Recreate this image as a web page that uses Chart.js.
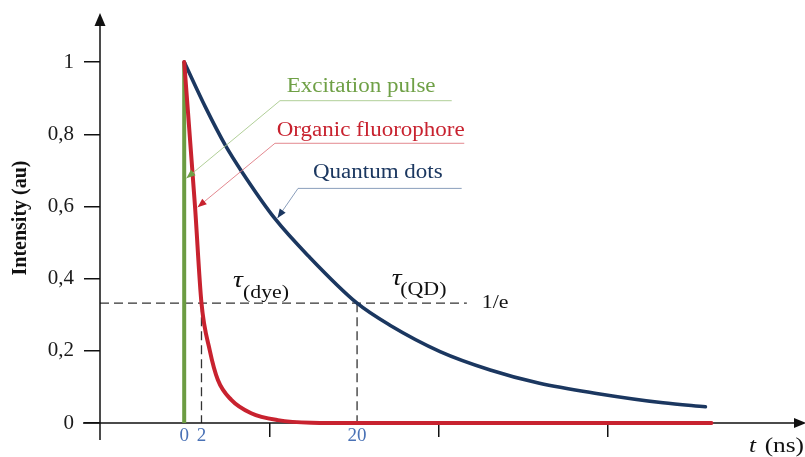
<!DOCTYPE html>
<html>
<head>
<meta charset="utf-8">
<script src="https://cdn.jsdelivr.net/npm/chart.js@4.4.1/dist/chart.umd.min.js"></script>
<style>
  html, body { margin: 0; padding: 0; background: #ffffff; }
  #wrap { width: 805px; height: 457px; }
</style>
</head>
<body>
<div id="wrap"><canvas id="c"></canvas></div>
<script>
// Decay of quantum dots (time in ns, normalised intensity)
const QD_TIME      = [0, 2.5, 4.7, 6.65, 10.5, 14.4, 20, 23.8, 29.6, 35.4, 41.1, 47.7, 55.4, 60.3];
const QD_INTENSITY = [1, 0.873, 0.772, 0.697, 0.566, 0.462, 0.332, 0.271, 0.198, 0.147, 0.110, 0.082, 0.056, 0.045];

// Decay of the organic fluorophore
const DYE_TIME      = [0, 1.25, 2, 2.95, 3.9, 5.45, 7.75, 10.85, 14.7, 20, 30, 40, 50, 61];
const DYE_INTENSITY = [1, 0.60, 0.332, 0.202, 0.119, 0.064, 0.027, 0.008, 0.001, 0, 0, 0, 0, 0];

// Excitation pulse at t = 0
const PULSE_TIME      = [0, 0];
const PULSE_INTENSITY = [0, 1];

// 1/e level and the two lifetimes read at it
const TAU_LEVEL = 0.332;
const TAU_DYE = 2;
const TAU_QD = 20;
const LEVEL_LINE_END = 32.7;

// Axis ticks
const X_TICKS      = [0, 2, 9.85, 20, 29.45, 49];
const X_TICK_TEXT  = ['0', '2', '', '20', '', ''];
const Y_TICKS      = [0, 0.2, 0.4, 0.6, 0.8, 1];
const Y_TICK_TEXT  = ['0', '0,2', '0,4', '0,6', '0,8', '1'];

const X_MIN = -9.741, X_MAX = 71.82, Y_MIN = 0, Y_MAX = 1.136;

const GREEN = '#6c9c42', RED = '#c8222f', NAVY = '#1b3760';
const SERIF = '"Liberation Serif", "Times New Roman", serif';
const SX = 1.15; // horizontal stretch of the annotation lettering

// Callouts: tip on the curve, elbow of the leader, end of the underline, text anchor
const NOTES = [
  { text: 'Excitation pulse',    color: '#6fa046', lead: '#a8c98c', tip: [0.25, 0.678], elbow: [11.08, 0.893], end: 30.95, at: [11.86, 0.918] },
  { text: 'Organic fluorophore', color: '#c8222f', lead: '#e07a82', tip: [1.55, 0.598], elbow: [10.5, 0.775],  end: 32.4,  at: [10.7, 0.795] },
  { text: 'Quantum dots',        color: '#1b3760', lead: '#7d93b3', tip: [10.8, 0.568], elbow: [13.17, 0.650], end: 32.1,  at: [14.9, 0.678] }
];

function xy(times, values) { return times.map((t, i) => ({ x: t, y: values[i] })); }

function stretchedText(ctx, str, x, y, font, color, align) {
  ctx.save();
  ctx.font = font;
  ctx.fillStyle = color;
  ctx.textAlign = align || 'left';
  ctx.textBaseline = 'alphabetic';
  ctx.translate(x, y);
  ctx.scale(SX, 1);
  ctx.fillText(str, 0, 0);
  ctx.restore();
}

function triangle(ctx, tx, ty, fx, fy, len, half, color) {
  const a = Math.atan2(ty - fy, tx - fx);
  ctx.save();
  ctx.fillStyle = color;
  ctx.beginPath();
  ctx.moveTo(tx, ty);
  ctx.lineTo(tx - len * Math.cos(a) + half * Math.sin(a), ty - len * Math.sin(a) - half * Math.cos(a));
  ctx.lineTo(tx - len * Math.cos(a) - half * Math.sin(a), ty - len * Math.sin(a) + half * Math.cos(a));
  ctx.closePath();
  ctx.fill();
  ctx.restore();
}

const decorations = {
  id: 'decorations',
  beforeDatasetsDraw(chart) {
    const { ctx, chartArea: ca, scales: { x, y } } = chart;
    const y0 = y.getPixelForValue(0);
    const x0 = ca.left;

    // 1/e level and lifetime markers
    ctx.save();
    ctx.strokeStyle = '#333';
    ctx.lineWidth = 1.3;
    ctx.setLineDash([9, 5]);
    const yl = y.getPixelForValue(TAU_LEVEL);
    ctx.beginPath();
    ctx.moveTo(x0, yl); ctx.lineTo(x.getPixelForValue(LEVEL_LINE_END), yl);
    [TAU_DYE, TAU_QD].forEach(t => {
      const px = x.getPixelForValue(t);
      ctx.moveTo(px, yl); ctx.lineTo(px, y0);
    });
    ctx.stroke();
    ctx.restore();

    // axes with arrow heads
    ctx.save();
    ctx.strokeStyle = '#111';
    ctx.lineWidth = 1.5;
    ctx.beginPath();
    ctx.moveTo(x0 - 17, y0); ctx.lineTo(ca.right - 6, y0);
    ctx.moveTo(x0, y0 + 17); ctx.lineTo(x0, ca.top + 8);
    ctx.stroke();
    ctx.restore();
    triangle(ctx, ca.right + 1, y0, ca.right - 20, y0, 12, 5, '#111');
    triangle(ctx, x0, ca.top, x0, ca.top + 20, 13, 5.5, '#111');
  },
  afterDatasetsDraw(chart) {
    const { ctx, chartArea: ca, scales: { x, y } } = chart;
    const P = (p) => [x.getPixelForValue(p[0]), y.getPixelForValue(p[1])];

    // callouts
    NOTES.forEach(n => {
      const tip = P(n.tip), elbow = P(n.elbow);
      const endX = x.getPixelForValue(n.end);
      ctx.save();
      ctx.strokeStyle = n.lead;
      ctx.lineWidth = 0.9;
      ctx.beginPath();
      ctx.moveTo(endX, elbow[1]);
      ctx.lineTo(elbow[0], elbow[1]);
      ctx.lineTo(tip[0], tip[1]);
      ctx.stroke();
      ctx.restore();
      triangle(ctx, tip[0], tip[1], elbow[0], elbow[1], 9, 3.6, n.color);
      const at = P(n.at);
      stretchedText(ctx, n.text, at[0], at[1], '20px ' + SERIF, n.color);
    });

    // lifetime labels
    const tauFont = 'italic 24px ' + SERIF;
    const subFont = '19px ' + SERIF;
    let p = P([5.65, 0.377]);
    stretchedText(ctx, '\u03C4', p[0], p[1], tauFont, '#111');
    p = P([6.8, 0.346]);
    stretchedText(ctx, '(dye)', p[0], p[1], subFont, '#111');
    p = P([24.0, 0.382]);
    stretchedText(ctx, '\u03C4', p[0], p[1], tauFont, '#111');
    p = P([25.0, 0.355]);
    stretchedText(ctx, '(QD)', p[0], p[1], subFont, '#111');
    p = P([34.42, 0.3186]);
    stretchedText(ctx, '1/e', p[0], p[1], '19px ' + SERIF, '#111');

    // time axis title
    stretchedText(ctx, '(ns)', ca.right - 1, 452, '22px ' + SERIF, '#111', 'right');
    stretchedText(ctx, 't', ca.right - 56, 452, 'italic 22px ' + SERIF, '#111');
  }
};

new Chart(document.getElementById('c'), {
  type: 'line',
  data: {
    datasets: [
      { label: 'Excitation pulse', data: xy(PULSE_TIME, PULSE_INTENSITY), borderColor: GREEN, borderWidth: 4, pointRadius: 0, order: 3, clip: false, borderCapStyle: 'butt' },
      { label: 'Quantum dots', data: xy(QD_TIME, QD_INTENSITY), borderColor: NAVY, borderWidth: 3.6, pointRadius: 0, cubicInterpolationMode: 'monotone', order: 2, clip: false, borderCapStyle: 'round' },
      { label: 'Organic fluorophore', data: xy(DYE_TIME, DYE_INTENSITY), borderColor: RED, borderWidth: 4, pointRadius: 0, cubicInterpolationMode: 'monotone', order: 1, clip: false, borderCapStyle: 'round', borderJoinStyle: 'round' }
    ]
  },
  options: {
    responsive: true,
    maintainAspectRatio: false,
    animation: false,
    layout: { padding: { top: 13, right: 0, left: 0, bottom: 0 } },
    plugins: { legend: { display: false }, tooltip: { enabled: false } },
    scales: {
      x: {
        type: 'linear',
        min: X_MIN, max: X_MAX,
        border: { display: false },
        grid: {
          drawOnChartArea: false, drawTicks: true, tickLength: 14, lineWidth: 1.5,
          color: (c) => (X_TICK_TEXT[c.index] ? 'rgba(0,0,0,0)' : '#111')
        },
        afterBuildTicks: (s) => { s.ticks = X_TICKS.map(v => ({ value: v })); },
        afterFit: (s) => { s.height = 34; s.paddingLeft = 0; s.paddingRight = 0; },
        ticks: {
          autoSkip: false, maxRotation: 0, padding: -12,
          color: '#4a72b6',
          font: { family: SERIF, size: 19 },
          callback: (v, i) => X_TICK_TEXT[i]
        }
      },
      y: {
        type: 'linear',
        min: Y_MIN, max: Y_MAX,
        border: { display: false },
        grid: { drawOnChartArea: false, drawTicks: true, tickLength: 16, lineWidth: 1.5, color: '#111' },
        afterBuildTicks: (s) => { s.ticks = Y_TICKS.map(v => ({ value: v })); },
        afterFit: (s) => { s.width = 100; s.paddingTop = 0; s.paddingBottom = 0; },
        ticks: {
          padding: 10, color: '#1a1a1a',
          font: { family: SERIF, size: 21 },
          callback: (v, i) => Y_TICK_TEXT[i]
        },
        title: {
          display: true, text: 'Intensity (au)', color: '#111',
          font: { family: SERIF, size: 20, weight: 'bold' },
          padding: { top: 9, bottom: 0 }
        }
      }
    }
  },
  plugins: [decorations]
});
</script>
</body>
</html>
